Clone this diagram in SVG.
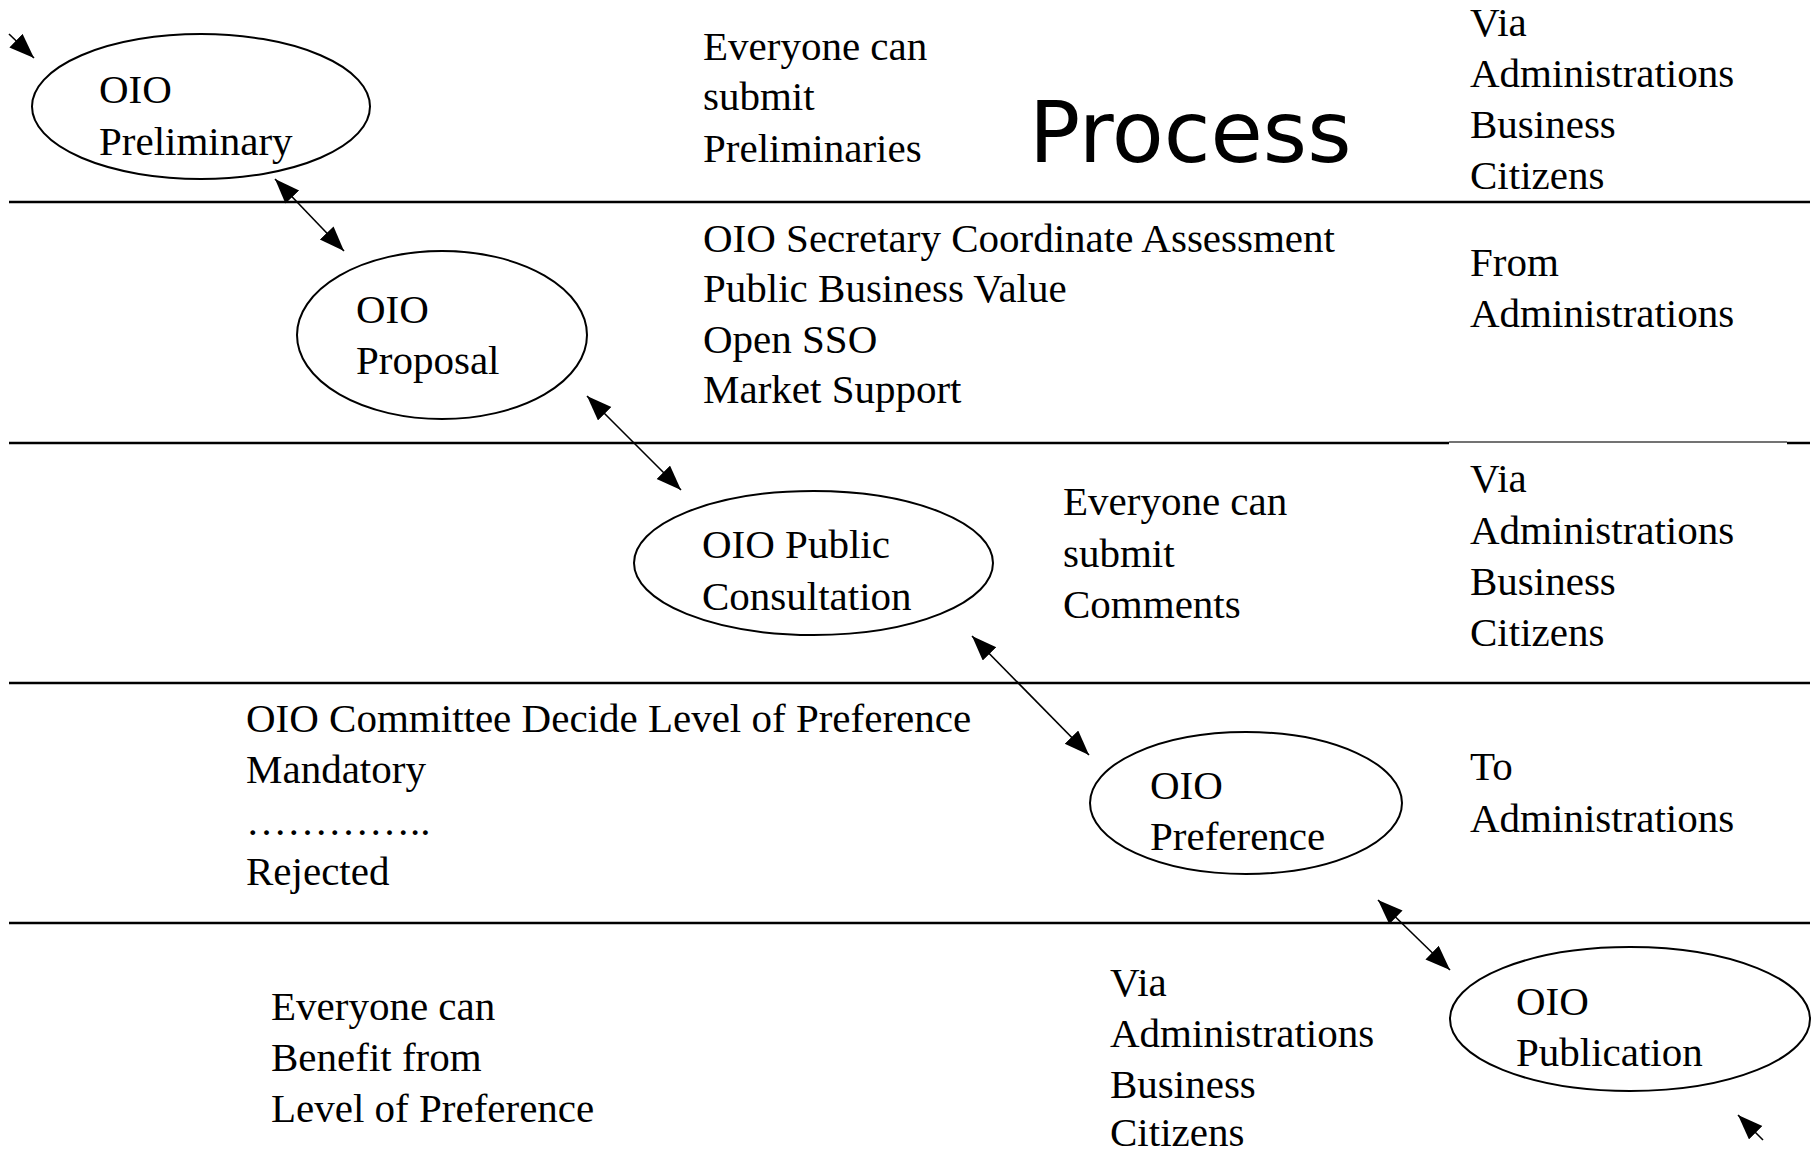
<svg xmlns="http://www.w3.org/2000/svg" width="1818" height="1151" viewBox="0 0 1818 1151">
<style>
  .t { font-family: "Liberation Serif", "Times New Roman", serif; font-size: 41px; fill: #000; }
  .title { font-family: "DejaVu Sans", "Liberation Sans", sans-serif; font-size: 85px; fill: #000; }
  .node { fill: #fff; stroke: #000; stroke-width: 2; }
  .sep { stroke: #000; stroke-width: 2.5; }
  .sep-thin { stroke: #444; stroke-width: 1.5; }
  .conn { stroke: #000; stroke-width: 1.6; fill: none; }
</style>
<defs>
  <marker id="ah" markerUnits="userSpaceOnUse" markerWidth="28" markerHeight="22" refX="25" refY="9.5" orient="auto-start-reverse">
    <path d="M0,0 L25,9.5 L0,19 z" fill="#000"/>
  </marker>
</defs>
<rect width="1818" height="1151" fill="#fff"/>

<g id="separators">
  <line class="sep" x1="9" y1="202" x2="1810" y2="202"/>
  <line class="sep" x1="9" y1="443" x2="1449" y2="443"/>
  <line class="sep-thin" x1="1449" y1="442" x2="1787" y2="442"/>
  <line class="sep" x1="1787" y1="443" x2="1810" y2="443"/>
  <line class="sep" x1="9" y1="683" x2="1810" y2="683"/>
  <line class="sep" x1="9" y1="923" x2="1810" y2="923"/>
</g>

<g id="connectors">
  <line class="conn" x1="9" y1="34" x2="34" y2="58" marker-end="url(#ah)"/>
  <line class="conn" x1="275" y1="179" x2="344" y2="251" marker-start="url(#ah)" marker-end="url(#ah)"/>
  <line class="conn" x1="587" y1="396" x2="681" y2="490" marker-start="url(#ah)" marker-end="url(#ah)"/>
  <line class="conn" x1="972" y1="636" x2="1089" y2="755" marker-start="url(#ah)" marker-end="url(#ah)"/>
  <line class="conn" x1="1378" y1="900" x2="1450" y2="970" marker-start="url(#ah)" marker-end="url(#ah)"/>
  <line class="conn" x1="1763" y1="1140" x2="1738" y2="1115" marker-end="url(#ah)"/>
</g>

<g id="node-preliminary">
  <ellipse class="node" cx="201" cy="106.5" rx="169" ry="72.5"/>
  <text class="t" x="99" y="103">OIO</text>
  <text class="t" x="99" y="155">Preliminary</text>
</g>
<g id="node-proposal">
  <ellipse class="node" cx="442" cy="335" rx="145" ry="84"/>
  <text class="t" x="356" y="323">OIO</text>
  <text class="t" x="356" y="374">Proposal</text>
</g>
<g id="node-consultation">
  <ellipse class="node" cx="813.5" cy="563" rx="179.5" ry="72"/>
  <text class="t" x="702" y="558">OIO Public</text>
  <text class="t" x="702" y="610">Consultation</text>
</g>
<g id="node-preference">
  <ellipse class="node" cx="1246" cy="803" rx="156" ry="71"/>
  <text class="t" x="1150" y="799">OIO</text>
  <text class="t" x="1150" y="850">Preference</text>
</g>
<g id="node-publication">
  <ellipse class="node" cx="1630" cy="1019" rx="180" ry="72"/>
  <text class="t" x="1516" y="1015">OIO</text>
  <text class="t" x="1516" y="1066">Publication</text>
</g>

<g id="labels">
  <text class="title" x="1029" y="162">Process</text>

  <text class="t" x="703" y="60">Everyone can</text>
  <text class="t" x="703" y="110">submit</text>
  <text class="t" x="703" y="162">Preliminaries</text>

  <text class="t" x="1470" y="36">Via</text>
  <text class="t" x="1470" y="87">Administrations</text>
  <text class="t" x="1470" y="138">Business</text>
  <text class="t" x="1470" y="189">Citizens</text>

  <text class="t" x="703" y="252">OIO Secretary Coordinate Assessment</text>
  <text class="t" x="703" y="302">Public Business Value</text>
  <text class="t" x="703" y="353">Open SSO</text>
  <text class="t" x="703" y="403">Market Support</text>

  <text class="t" x="1470" y="276">From</text>
  <text class="t" x="1470" y="327">Administrations</text>

  <text class="t" x="1063" y="515">Everyone can</text>
  <text class="t" x="1063" y="567">submit</text>
  <text class="t" x="1063" y="618">Comments</text>

  <text class="t" x="1470" y="492">Via</text>
  <text class="t" x="1470" y="544">Administrations</text>
  <text class="t" x="1470" y="595">Business</text>
  <text class="t" x="1470" y="646">Citizens</text>

  <text class="t" x="246" y="732">OIO Committee Decide Level of Preference</text>
  <text class="t" x="246" y="783">Mandatory</text>
  <text class="t" x="246" y="835">…………..</text>
  <text class="t" x="246" y="885">Rejected</text>

  <text class="t" x="1470" y="780">To</text>
  <text class="t" x="1470" y="832">Administrations</text>

  <text class="t" x="271" y="1020">Everyone can</text>
  <text class="t" x="271" y="1071">Benefit from</text>
  <text class="t" x="271" y="1122">Level of Preference</text>

  <text class="t" x="1110" y="996">Via</text>
  <text class="t" x="1110" y="1047">Administrations</text>
  <text class="t" x="1110" y="1098">Business</text>
  <text class="t" x="1110" y="1146">Citizens</text>
</g>
</svg>
